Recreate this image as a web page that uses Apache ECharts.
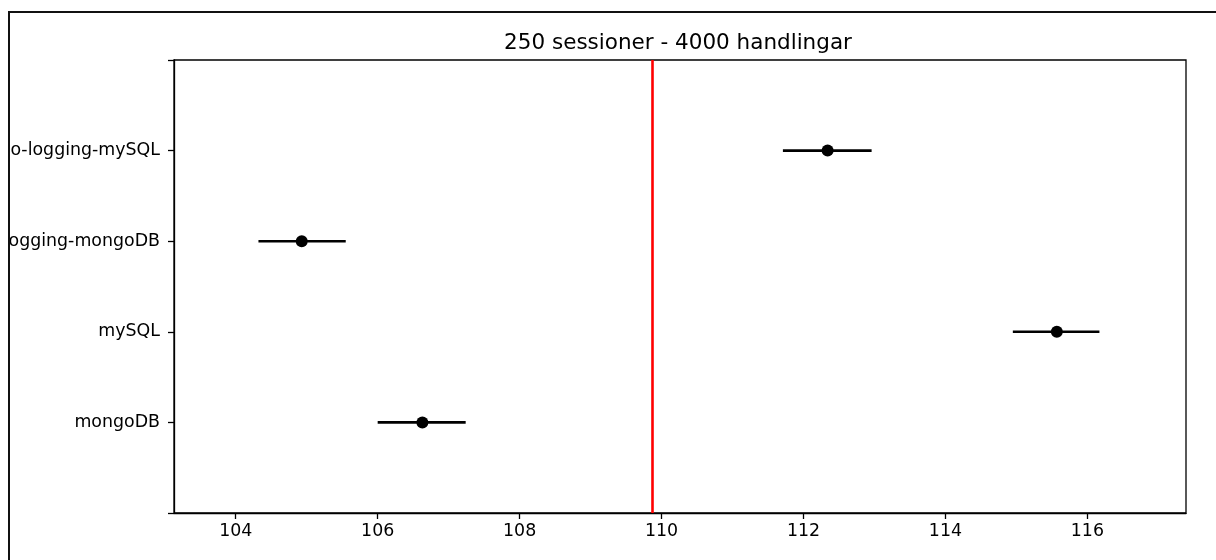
<!DOCTYPE html>
<html>
<head>
<meta charset="utf-8">
<script src="https://cdn.jsdelivr.net/npm/echarts@6/dist/echarts.min.js"></script>
<style>
  html, body { margin: 0; padding: 0; background: #fff; overflow: hidden; }
  #frame {
    position: absolute;
    left: 8px;
    top: 11px;
    width: 1240px;
    height: 580px;
    border-left: 2px solid #111;
    border-top: 2px solid #111;
    overflow: hidden;
  }
  #chart { width: 1240px; height: 580px; }
</style>
</head>
<body>
<div id="frame"><div id="chart"></div></div>
<script>
// data
const categories = ["mongoDB", "mySQL", "no-logging-mongoDB", "no-logging-mySQL"];
const means = [106.63, 115.57, 104.93, 112.34];
const lows = [106.0, 114.95, 104.32, 111.71];
const highs = [107.24, 116.17, 105.55, 112.96];
const xTicks = [104, 106, 108, 110, 112, 114, 116];
const refValue = 109.87;

const yLabels = [""].concat(categories, [""]);
const font = "DejaVu Sans";

const myChart = echarts.init(document.getElementById("chart"));
const option = {
  animation: false,
  title: {
    text: "250 sessioner - 4000 handlingar",
    left: 663,
    top: 14,
    textAlign: "center",
    textStyle: { fontFamily: font, fontSize: 21.5, fontWeight: "normal", color: "#000" },
  },
  grid: {
    left: 164,
    top: 47,
    width: 1012,
    height: 453,
    containLabel: false,
    outerBoundsMode: "none",
    show: true,
    borderColor: "#000",
    borderWidth: 1.3,
  },
  xAxis: {
    type: "value",
    min: 103.13,
    max: 117.39,
    splitLine: { show: false },
    axisLine: { show: true, lineStyle: { color: "#000", width: 1.3 } },
    axisTick: { show: true, length: 6, customValues: xTicks, lineStyle: { color: "#000", width: 1.3 } },
    axisLabel: {
      customValues: xTicks,
      margin: 10,
      color: "#000",
      fontFamily: font,
      fontSize: 17.4,
    },
  },
  yAxis: {
    type: "value",
    min: 0,
    max: 5,
    interval: 1,
    splitLine: { show: false },
    axisLine: { show: true, lineStyle: { color: "#000", width: 1.3 } },
    axisTick: { show: true, length: 6, lineStyle: { color: "#000", width: 1.3 } },
    axisLabel: {
      margin: 14,
      color: "#000",
      fontFamily: font,
      fontSize: 17.4,
      formatter: (v) => yLabels[v] || "",
    },
  },
  series: [
    {
      type: "custom",
      data: categories.map((c, i) => [lows[i], highs[i], i + 1]),
      encode: { x: [0, 1], y: 2 },
      renderItem: (params, api) => {
        const y = api.value(2);
        const a = api.coord([api.value(0), y]);
        const b = api.coord([api.value(1), y]);
        return {
          type: "line",
          shape: { x1: a[0], y1: a[1], x2: b[0], y2: b[1] },
          style: { stroke: "#000", lineWidth: 2.6 },
        };
      },
      markLine: {
        silent: true,
        symbol: "none",
        label: { show: false },
        lineStyle: { color: "#ff0000", width: 2.6, type: "solid" },
        data: [{ xAxis: refValue }],
      },
    },
    {
      type: "scatter",
      data: means.map((m, i) => [m, i + 1]),
      symbol: "circle",
      symbolSize: 12,
      itemStyle: { color: "#000", opacity: 1 },
      z: 5,
    },
  ],
};
option && myChart.setOption(option);
</script>
</body>
</html>
